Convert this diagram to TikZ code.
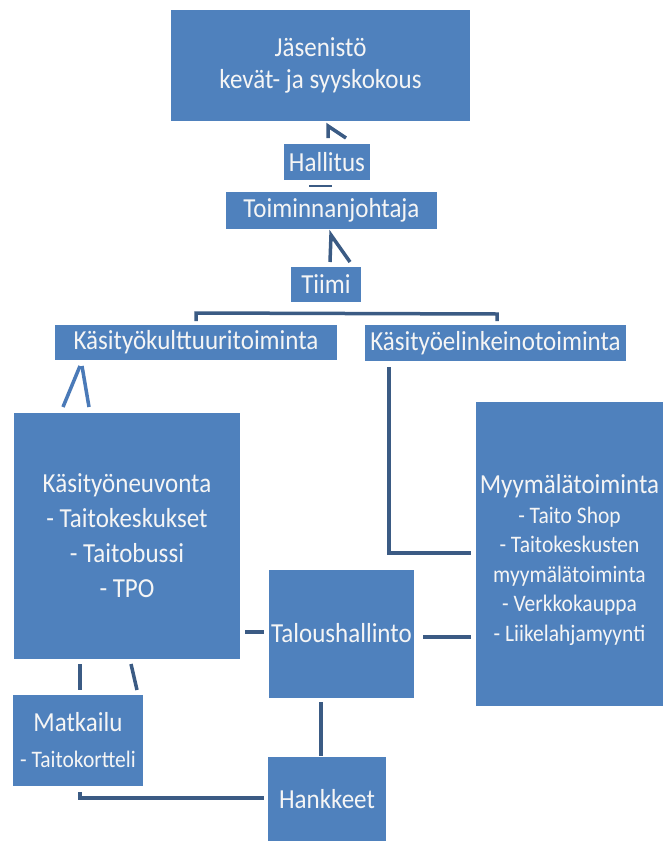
\documentclass[tikz,border=0pt]{standalone}
\usepackage{fontspec}
\usepackage{graphicx}
\setmainfont{Carlito}
\definecolor{boxblue}{HTML}{4F81BD}
\definecolor{lineblue}{HTML}{3B5B84}
\definecolor{lightline}{HTML}{4A7AB8}
\newcommand\fbig{\fontsize{25}{32}\selectfont}
\newcommand\fsmall{\fontsize{21.5}{29.5}\selectfont}
\newcommand\vs[1]{\scalebox{1}[1.1]{#1}}
\begin{document}
\begin{tikzpicture}[x=1pt,y=-1pt,
  box/.style={fill=boxblue, draw=none, text=white!96!black, inner sep=0pt, align=center, font=\fbig},
  conn/.style={draw=lineblue, line width=3.5pt},
  lconn/.style={draw=lightline, line width=3.5pt}]
\useasboundingbox (0,0) rectangle (663,841);
\fill[white] (0,0) rectangle (663,841);
% boxes
\node[box, minimum width=299pt, minimum height=111pt] (jas) at (320.5,65.5) {\vs{Jäsenistö}\\\vs{kevät- ja syyskokous}};
\node[box, minimum width=86pt, minimum height=36pt] (hall) at (327,162) {\vs{Hallitus}};
\node[box, minimum width=211pt, minimum height=37pt] (toim) at (331.5,210.5) {\vs{Toiminnanjohtaja}};
\node[box, minimum width=70pt, minimum height=35pt] (tiimi) at (326,284.5) {\vs{Tiimi}};
\node[box, minimum width=282pt, minimum height=35pt] (kult) at (196,342.5) {\vs{Käsityökulttuuritoiminta}};
\node[box, minimum width=261pt, minimum height=36pt] (elin) at (495.5,343) {\vs{Käsityöelinkeinotoiminta}};
\node[box, minimum width=226pt, minimum height=246pt, font=\fontsize{25}{35}\selectfont] (neuv) at (127,536) {\vs{Käsityöneuvonta}\\\vs{- Taitokeskukset}\\\vs{- Taitobussi}\\\vs{- TPO}};
\node[box, minimum width=187pt, minimum height=304pt, font=\fsmall] (myym) at (569.5,554) {\raisebox{0pt}[31pt]{\fbig\vs{Myymälätoiminta}}\\\vs{- Taito Shop}\\\vs{- Taitokeskusten}\\\vs{myymälätoiminta}\\\vs{- Verkkokauppa}\\\vs{- Liikelahjamyynti}};
\node[box, minimum width=145pt, minimum height=128pt] (talous) at (341.5,633.5) {\vs{Taloushallinto}};
\node[box, minimum width=130pt, minimum height=91pt, font=\fontsize{25}{36}\selectfont] (matk) at (78,740.5) {\vs{Matkailu}\\{\fsmall\vs{- Taitokortteli}}};
\node[box, minimum width=118pt, minimum height=84pt] (hank) at (327,799) {\vs{Hankkeet}};
% connector end points
\coordinate (a1) at (328,138); \coordinate (a2) at (328,126); \coordinate (a3) at (346,138);
\coordinate (b1) at (309,186); \coordinate (b2) at (332,186);
\coordinate (c1) at (330,262); \coordinate (c2) at (331,235); \coordinate (c3) at (350,262);
\coordinate (d1) at (196,321); \coordinate (d2) at (196,313); \coordinate (d3) at (497,314); \coordinate (d4) at (497,321);
\coordinate (e1) at (63,407); \coordinate (e2) at (80,366); \coordinate (e3) at (82,366); \coordinate (e4) at (89,407);
\coordinate (f1) at (389,367); \coordinate (f2) at (389,553); \coordinate (f3) at (471,553);
\coordinate (g1) at (245,632); \coordinate (g2) at (264,632);
\coordinate (h1) at (423,637); \coordinate (h2) at (471,637);
\coordinate (i1) at (80,664); \coordinate (i2) at (80,690); \coordinate (i3) at (131,664); \coordinate (i4) at (137,690);
\coordinate (j1) at (321,702); \coordinate (j2) at (321,756);
\coordinate (k1) at (80,792); \coordinate (k2) at (80,798); \coordinate (k3) at (264,798);
% connectors
\draw[conn] (a1) -- (a2) -- (a3);
\draw[conn, line width=2.5pt] (b1) -- (b2);
\draw[conn] (c1) -- (c2) -- (c3);
\draw[conn] (d1) -- (d2) -- (d3) -- (d4);
\draw[lconn] (e1) -- (e2);
\draw[lconn] (e3) -- (e4);
\draw[conn] (f1) -- (f2) -- (f3);
\draw[conn] (g1) -- (g2);
\draw[conn] (h1) -- (h2);
\draw[conn] (i1) -- (i2);
\draw[conn] (i3) -- (i4);
\draw[conn] (j1) -- (j2);
\draw[conn] (k1) -- (k2) -- (k3);
\end{tikzpicture}
\end{document}
